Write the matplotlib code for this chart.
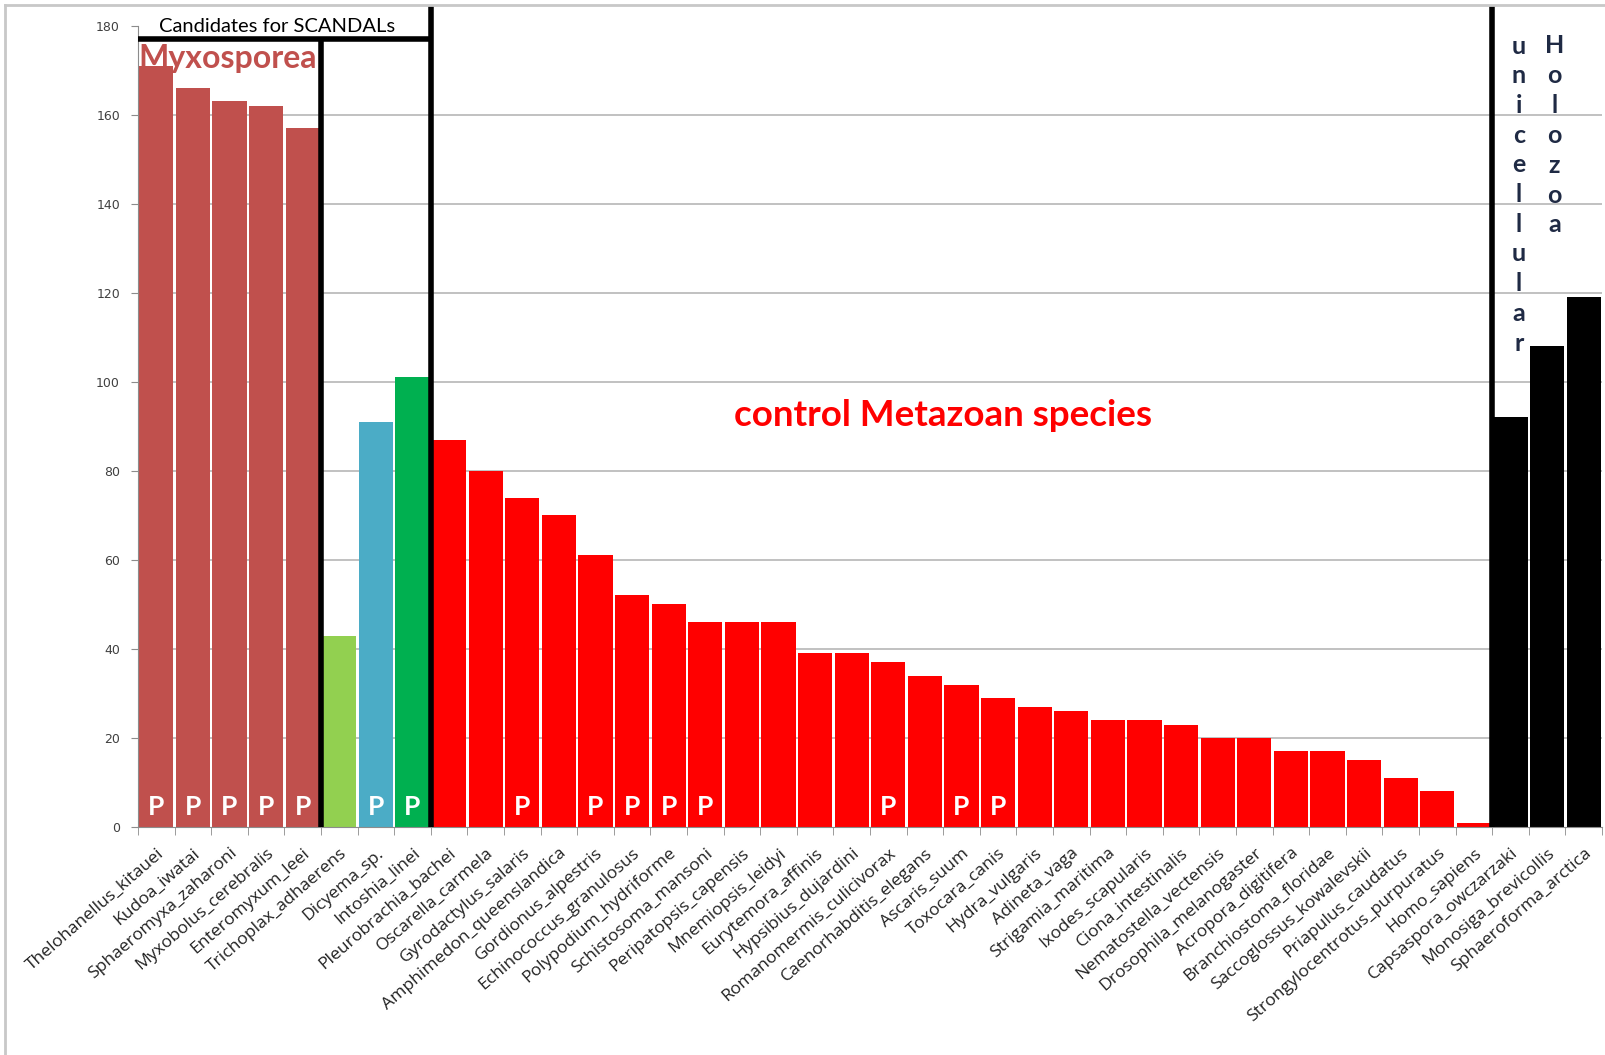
import matplotlib
matplotlib.use("Agg")
import matplotlib.pyplot as plt
from matplotlib.lines import Line2D

species = ["Thelohanellus_kitauei", "Kudoa_iwatai", "Sphaeromyxa_zaharoni", "Myxobolus_cerebralis",
           "Enteromyxum_leei", "Trichoplax_adhaerens", "Dicyema_sp.", "Intoshia_linei",
           "Pleurobrachia_bachei", "Oscarella_carmela", "Gyrodactylus_salaris", "Amphimedon_queenslandica",
           "Gordionus_alpestris", "Echinococcus_granulosus", "Polypodium_hydriforme", "Schistosoma_mansoni",
           "Peripatopsis_capensis", "Mnemiopsis_leidyi", "Eurytemora_affinis", "Hypsibius_dujardini",
           "Romanomermis_culicivorax", "Caenorhabditis_elegans", "Ascaris_suum", "Toxocara_canis",
           "Hydra_vulgaris", "Adineta_vaga", "Strigamia_maritima", "Ixodes_scapularis",
           "Ciona_intestinalis", "Nematostella_vectensis", "Drosophila_melanogaster", "Acropora_digitifera",
           "Branchiostoma_floridae", "Saccoglossus_kowalevskii", "Priapulus_caudatus",
           "Strongylocentrotus_purpuratus", "Homo_sapiens", "Capsaspora_owczarzaki",
           "Monosiga_brevicollis", "Sphaeroforma_arctica"]
values = [171, 166, 163, 162, 157, 43, 91, 101,
          87, 80, 74, 70, 61, 52, 50, 46, 46, 46, 39, 39, 37, 34, 32, 29,
          27, 26, 24, 24, 23, 20, 20, 17, 17, 15, 11, 8, 1,
          92, 108, 119]
groups = ["myxo"] * 5 + ["tricho", "dicyema", "intoshia"] + ["metazoa"] * 29 + ["holozoa"] * 3
parasitic = [1, 1, 1, 1, 1, 0, 1, 1,
             0, 0, 1, 0, 1, 1, 1, 1, 0, 0, 0, 0, 1, 0, 1, 1,
             0, 0, 0, 0, 0, 0, 0, 0, 0, 0, 0, 0, 0,
             0, 0, 0]
yticks = [0, 20, 40, 60, 80, 100, 120, 140, 160, 180]

group_colors = {"myxo": "#C0504D", "tricho": "#92D050", "dicyema": "#4BACC6",
                "intoshia": "#00B050", "metazoa": "#FF0000", "holozoa": "#000000"}

fig = plt.figure(figsize=(16.05, 10.55), dpi=100)
ax = fig.add_axes([138 / 1605, 228 / 1055, (1602 - 138) / 1605, (827 - 25.6) / 1055])

x = list(range(len(species)))
ax.bar(x, values, width=0.93, color=[group_colors[g] for g in groups], zorder=2)

ax.set_xlim(-0.5, len(species) - 0.5)
ax.set_ylim(0, 180)
ax.set_yticks(yticks)
ax.set_yticklabels([str(t) for t in yticks], fontsize=9, color="#404040", family="DejaVu Sans")
for t in yticks[1:-1]:
    ax.axhline(t, color="#B0B0B0", lw=1.1, zorder=1)

ax.set_xticks(x)
ax.set_xticklabels(species, rotation=41, ha="right", rotation_mode="anchor",
                   fontsize=12.6, family="Open Sans", color="#222222")
ax.set_xticks([i - 0.5 for i in range(len(species) + 1)], minor=True)
ax.tick_params(axis="x", which="major", length=0, pad=13)
ax.tick_params(axis="x", which="minor", length=6, color="#8C8C8C", direction="out")
ax.tick_params(axis="y", length=5, color="#8C8C8C", pad=8)

for s in ["top", "right"]:
    ax.spines[s].set_visible(False)
ax.spines["left"].set_color("#8C8C8C")
ax.spines["bottom"].set_color("#8C8C8C")

for xi, p in zip(x, parasitic):
    if p:
        ax.text(xi, 4.6, "P", color="white", fontsize=19, fontweight="bold", family="Lato",
                ha="center", va="center", zorder=4)

# group separator lines
lw = 4
ax.plot([-0.5, 7.5], [177, 177], color="black", lw=lw, zorder=5, clip_on=False, solid_capstyle="butt")
ax.plot([4.5, 4.5], [0, 177], color="black", lw=lw, zorder=5, clip_on=False, solid_capstyle="butt")
ax.plot([7.5, 7.5], [0, 184.5], color="black", lw=lw, zorder=5, clip_on=False, solid_capstyle="butt")
ax.plot([36.5, 36.5], [0, 184.5], color="black", lw=lw, zorder=5, clip_on=False, solid_capstyle="butt")

ax.text(3.3, 179.7, "Candidates for SCANDALs", fontsize=14.5, family="Lato", color="black",
        ha="center", va="center", zorder=6, clip_on=False)
ax.text(-0.5, 172.6, "Myxosporea", fontsize=23, family="Lato", fontweight="bold",
        color="#C0504D", ha="left", va="center", zorder=6)
ax.text(21.5, 92.5, "control Metazoan species", fontsize=26.5, family="Lato", fontweight="bold",
        color="#FF0000", ha="center", va="center", zorder=6)

navy = "#1F2A44"
for i, ch in enumerate("unicellular"):
    ax.text(37.23, 175.4 - i * 6.67, ch, fontsize=18, family="Lato", fontweight="bold",
            color=navy, ha="center", va="center", zorder=6)
for i, ch in enumerate("Holozoa"):
    ax.text(38.2, 175.6 - i * 6.73, ch, fontsize=18, family="Lato", fontweight="bold",
            color=navy, ha="center", va="center", zorder=6)

# outer frame (left and top edges)
fig.add_artist(Line2D([5 / 1605, 5 / 1605], [0, 1 - 5 / 1055], color="#C8C8C8", lw=2))
fig.add_artist(Line2D([5 / 1605, 1], [1 - 5 / 1055, 1 - 5 / 1055], color="#C8C8C8", lw=2))

fig.savefig("out.png", dpi=100, facecolor="white")
